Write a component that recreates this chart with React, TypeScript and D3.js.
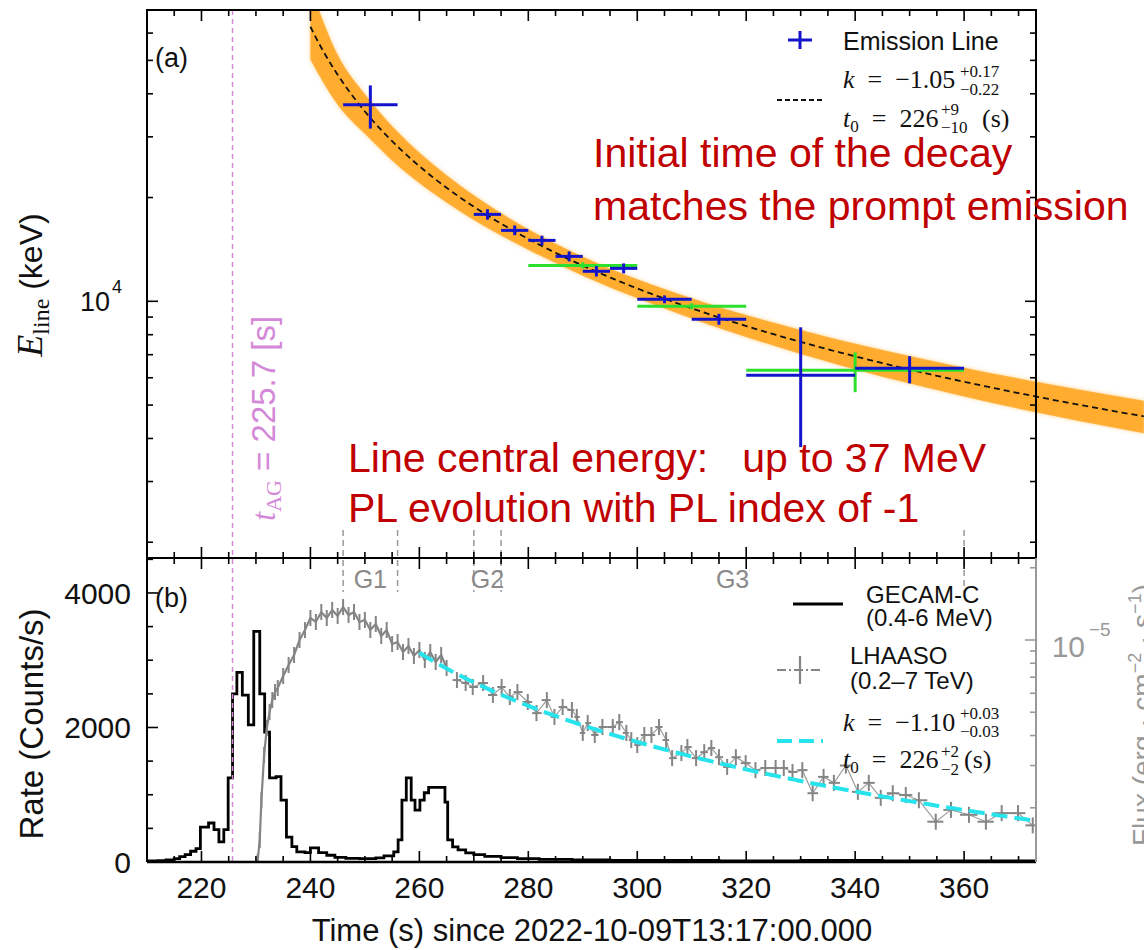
import React from "react";
import * as d3 from "d3";

const W = 1144;
const H = 950;

// ---------- Panel (a): emission line central energy (keV) ----------
const blueT = [251, 272.5, 277.5, 282.5, 287.5, 292.5, 297.5, 305, 315, 330, 350];
const blueTLo = [246, 270, 275, 280, 285, 290, 295, 300, 310, 320, 340];
const blueTHi = [256, 275, 280, 285, 290, 295, 300, 310, 320, 340, 360];
const blueE = [37200, 17870, 16060, 15020, 13500, 12220, 12460, 10130, 8870, 6100, 6390];
const blueELo = [31700, 17250, 15550, 14550, 13050, 11800, 12050, 9870, 8550, 3775, 5780];
const blueEHi = [42300, 18500, 16600, 15500, 13950, 12650, 12880, 10400, 9200, 8405, 6930];

const greenT = [290, 310, 340];
const greenTLo = [280, 300, 320];
const greenTHi = [300, 320, 360];
const greenE = [12710, 9670, 6310];
const greenELo = [12450, 9480, 5450];
const greenEHi = [12980, 9870, 7110];

// power-law fit E = N (t - t0)^k
const fitK = -1.05;
const fitT0 = 226;
const fitNorm = 1.0e6;
const fitStart = 240;
const fitEnd = 393;

// fit uncertainty band (keV) read at knots
const bandT = [240, 245, 250, 256, 263, 271, 280, 290, 310, 330, 360, 393];
const bandUpper = [81700, 51900, 39900, 31050, 24590, 19790, 16180, 13470, 10200, 8260, 6420, 5150];
const bandLower = [50200, 37200, 30600, 24790, 20350, 16840, 14120, 11870, 8920, 7030, 5290, 4140];

// ---------- Panel (b) ----------
// GECAM-C (0.4-6 MeV) light curve: bin left edges (s) and rates (counts/s)
const gecamEdge = [210, 212, 213.5, 215, 216, 217, 218, 219, 219.8, 221.3, 222.3, 223.2, 224.1, 224.9, 225.7, 226.5, 227.5, 228.6, 229.6, 230.7, 231.6, 232.5, 233.7, 234.6, 235.6, 236.6, 237.5, 239, 240, 241.5, 243, 244.5, 246.5, 249, 252, 253.5, 255.3, 256.1, 256.8, 257.6, 258.5, 259.2, 260.1, 260.9, 261.7, 264.7, 265.2, 266.1, 267.1, 268.5, 270, 272, 275, 278, 282, 288, 295, 305, 315, 330, 345, 360];
const gecamRate = [15, 20, 30, 50, 80, 110, 160, 200, 520, 580, 480, 300, 480, 1250, 2500, 2820, 2480, 2040, 3430, 2500, 1930, 1250, 1270, 920, 370, 230, 150, 140, 210, 140, 100, 70, 55, 50, 60, 90, 150, 330, 920, 1250, 920, 770, 920, 1030, 1110, 890, 330, 225, 180, 135, 110, 85, 65, 50, 40, 30, 22, 25, 18, 22, 16, 15];
const gecamEnd = 373.2;

// LHAASO (0.2-7 TeV) flux, units of 1e-6 erg cm^-2 s^-1
const lhDenseT = [230.3, 230.7, 231.0, 231.5, 232.0, 232.5, 233.0, 233.5, 234.0, 235.0, 236.0, 237.0, 238.0, 239.0, 240.0, 241.0, 242.0, 243.0, 244.0, 245.0, 246.0, 247.0, 248.0, 249.0, 250.0, 251.0, 252.0, 253.0, 254.0, 255.0, 256.0, 257.0, 258.0, 259.0, 260.0, 261.0, 262.0, 263.0, 264.0, 265.0];
const lhDenseF = [1.19, 1.47, 2.15, 3.32, 4.30, 5.01, 5.62, 6.07, 6.31, 7.08, 7.87, 8.66, 10.0, 11.0, 12.35, 11.89, 13.08, 12.35, 13.34, 12.59, 13.72, 12.71, 13.08, 11.89, 12.12, 11.01, 11.66, 10.39, 11.01, 9.62, 9.81, 8.91, 9.44, 8.58, 9.08, 8.25, 8.91, 8.10, 8.66, 7.65];
const lhT = [266.9, 268.5, 269.8, 271.7, 273.5, 275.1, 276.6, 278.0, 279.9, 281.5, 283.4, 284.8, 286.3, 288.0, 288.9, 290.0, 290.9, 292.2, 293.6, 295.5, 296.7, 298.0, 298.9, 300.0, 301.3, 302.6, 304.0, 305.3, 306.4, 308.1, 309.2, 310.8, 312.3, 313.6, 315.0, 316.5, 318.1, 319.9, 321.7, 323.5, 325.4, 326.9, 328.5, 330.3, 332.2, 334.2, 336.1, 338.3, 340.5, 342.5, 344.7, 346.9, 349.3, 351.7, 354.8, 357.6, 360.9, 364.0, 366.9, 369.9, 372.6];
const lhF = [6.81, 6.62, 6.37, 6.62, 5.90, 6.37, 5.79, 6.07, 5.52, 4.96, 5.62, 4.78, 5.26, 5.11, 4.78, 4.10, 4.51, 4.02, 4.34, 4.34, 4.55, 4.10, 3.83, 3.65, 4.02, 4.02, 4.34, 3.83, 3.22, 3.38, 3.58, 3.22, 3.41, 3.55, 3.25, 2.96, 3.25, 3.07, 2.87, 2.93, 2.93, 2.93, 2.82, 2.87, 2.30, 2.69, 2.54, 3.0, 2.33, 2.54, 2.20, 2.30, 2.26, 2.15, 1.75, 1.96, 1.87, 1.75, 1.90, 1.90, 1.69];
const lhErrFactor = 1.08;

const lhFitK = -1.1;
const lhFitT0 = 226;
const lhFitNorm = 428;
const lhFitStart = 260;

const tAG = 225.7;
const gLines = [246, 256, 270, 275, 360];
const gLabels = ["G1", "G2", "G3"];
const gCenters = [251, 272.5, 317.5];

const xMajorTicks = [220, 240, 260, 280, 300, 320, 340, 360];
const rateMajorTicks = [0, 2000, 4000];

const SANS = "'Liberation Sans', Arial, Helvetica, sans-serif";
const SERIF = "'Liberation Serif', 'Times New Roman', serif";

export default function App() {
  const x = d3.scaleLinear().domain([210, 373.2]).range([147, 1036]);
  const yE = d3.scaleLog().domain([1800, 70000]).range([558, 10]);
  const yR = d3.scaleLinear().domain([0, 4520]).range([862, 558]);
  const yF = d3.scaleLog().domain([1.189, 21.96]).range([862, 558]);

  const L = 147, R = 1036, T = 10, M = 558, B = 862;

  const fitTs = d3.range(fitStart, fitEnd + 0.01, 0.5);
  const fitLine = d3
    .line<number>()
    .x((t) => x(t))
    .y((t) => yE(fitNorm * Math.pow(t - fitT0, fitK)))(fitTs) as string;

  const bandIdx = d3.range(bandT.length);
  const bandArea = d3
    .area<number>()
    .x((i) => x(bandT[i]))
    .y0((i) => yE(bandLower[i]))
    .y1((i) => yE(bandUpper[i]))
    .curve(d3.curveMonotoneX)(bandIdx) as string;

  const histPts: [number, number][] = gecamEdge.map((t, i) => [t, gecamRate[i]]);
  histPts.push([gecamEnd, gecamRate[gecamRate.length - 1]]);
  const histPath = d3
    .line<[number, number]>()
    .x((d) => x(d[0]))
    .y((d) => yR(d[1]))
    .curve(d3.curveStepAfter)(histPts) as string;

  const densePath = d3
    .line<number>()
    .x((i) => x(lhDenseT[i]))
    .y((i) => yF(lhDenseF[i]))(d3.range(lhDenseT.length)) as string;
  const crossPath = d3
    .line<number>()
    .x((i) => x(lhT[i]))
    .y((i) => yF(lhF[i]))(d3.range(lhT.length)) as string;

  const cyanTs = d3.range(lhFitStart, 373.2 + 0.01, 0.5);
  const cyanPath = d3
    .line<number>()
    .x((t) => x(t))
    .y((t) => yF(lhFitNorm * Math.pow(t - lhFitT0, lhFitK)))(cyanTs) as string;

  const minorX = d3.range(210, 373.2, 5);
  const eTicks = yE.ticks();
  const fTicks = yF.ticks();
  const rateMinor = d3.range(0, 4501, 500);

  const blue = "#1414CC";
  const green = "#2EE02E";
  const gray = "#858585";
  const pink = "#D488D8";
  const red = "#C00000";

  return (
    <svg
      width={W}
      height={H}
      viewBox={`0 0 ${W} ${H}`}
      style={{ position: "absolute", left: 0, top: 0, background: "#fff" }}
      fontFamily={SANS}
    >
      <defs>
        <clipPath id="clipA">
          <rect x={L} y={T} width={W - L} height={M - T} />
        </clipPath>
        <clipPath id="clipB">
          <rect x={L} y={M} width={R - L} height={B - M} />
        </clipPath>
        <filter id="soft" x="-5%" y="-5%" width="110%" height="110%">
          <feGaussianBlur stdDeviation="2" />
        </filter>
      </defs>
      <rect x={0} y={0} width={W} height={H} fill="#fff" />

      {/* ---------- Panel (a) ---------- */}
      <g clipPath="url(#clipA)">
        <path d={bandArea} fill="#FFB030" opacity={0.55} filter="url(#soft)" />
        <path d={bandArea} fill="#FFA51F" opacity={0.85} />
        <path d={fitLine} fill="none" stroke="#111" strokeWidth={1.8} strokeDasharray="6,4" />
        {greenT.map((t, i) => (
          <g key={"g" + i} stroke={green} strokeWidth={3}>
            <line x1={x(greenTLo[i])} x2={x(greenTHi[i])} y1={yE(greenE[i])} y2={yE(greenE[i])} />
            <line x1={x(t)} x2={x(t)} y1={yE(greenELo[i])} y2={yE(greenEHi[i])} />
          </g>
        ))}
        {blueT.map((t, i) => (
          <g key={"b" + i} stroke={blue} strokeWidth={3}>
            <line x1={x(blueTLo[i])} x2={x(blueTHi[i])} y1={yE(blueE[i])} y2={yE(blueE[i])} />
            <line x1={x(t)} x2={x(t)} y1={yE(blueELo[i])} y2={yE(blueEHi[i])} />
          </g>
        ))}
      </g>

      {/* ---------- Panel (b) ---------- */}
      <g clipPath="url(#clipB)">
        <path d={histPath} fill="none" stroke="#000" strokeWidth={2.8} />
        <path d={densePath} fill="none" stroke={gray} strokeWidth={2.2} />
        {lhDenseT.map((t, i) => (
          <line
            key={"d" + i}
            x1={x(t)}
            x2={x(t)}
            y1={yF(lhDenseF[i] / lhErrFactor)}
            y2={yF(lhDenseF[i] * lhErrFactor)}
            stroke={gray}
            strokeWidth={2}
          />
        ))}
        <path d={crossPath} fill="none" stroke={gray} strokeWidth={1.2} opacity={0.8} />
        {lhT.map((t, i) => {
          const prev = i > 0 ? lhT[i - 1] : t - (lhT[1] - lhT[0]);
          const next = i < lhT.length - 1 ? lhT[i + 1] : t + (t - lhT[i - 1]);
          return (
            <g key={"c" + i} stroke={gray} strokeWidth={2}>
              <line x1={x((prev + t) / 2)} x2={x((next + t) / 2)} y1={yF(lhF[i])} y2={yF(lhF[i])} />
              <line x1={x(t)} x2={x(t)} y1={yF(lhF[i] / lhErrFactor)} y2={yF(lhF[i] * lhErrFactor)} />
            </g>
          );
        })}
        <path d={cyanPath} fill="none" stroke="#27E3EC" strokeWidth={4} strokeDasharray="16,7" />
      </g>

      {/* t_AG line */}
      <line x1={x(tAG)} x2={x(tAG)} y1={T} y2={B} stroke={pink} strokeWidth={1.5} strokeDasharray="5,4" />
      <text
        transform={`translate(${x(tAG) + 42},521) rotate(-90)`}
        fontSize={33}
        fill={pink}
      >
        <tspan fontFamily={SERIF} fontStyle="italic">t</tspan>
        <tspan fontFamily={SERIF} fontSize={22} dy={6}>AG</tspan>
        <tspan dy={-6}> = 225.7 [s]</tspan>
      </text>

      {/* G intervals */}
      {gLines.map((t, i) => (
        <line key={"gl" + i} x1={x(t)} x2={x(t)} y1={530} y2={592} stroke="#9a9a9a" strokeWidth={1.5} strokeDasharray="6,4" />
      ))}
      {gLabels.map((g, i) => (
        <text key={"gt" + i} x={x(gCenters[i])} y={588} fontSize={25} fill="#8a8a8a" textAnchor="middle">
          {g}
        </text>
      ))}

      {/* ---------- Axes & spines ---------- */}
      <g stroke="#000" strokeWidth={1.6}>
        {minorX.map((t) => {
          const len = xMajorTicks.includes(t) ? 11 : 6;
          return (
            <g key={"xt" + t}>
              <line x1={x(t)} x2={x(t)} y1={T} y2={T + len} />
              <line x1={x(t)} x2={x(t)} y1={M} y2={M - len} />
              <line x1={x(t)} x2={x(t)} y1={M} y2={M + len} />
              <line x1={x(t)} x2={x(t)} y1={B} y2={B - len} />
            </g>
          );
        })}
        {eTicks.map((v) => {
          const len = v === 10000 ? 11 : 6;
          return (
            <g key={"et" + v}>
              <line x1={L} x2={L + len} y1={yE(v)} y2={yE(v)} />
              <line x1={R} x2={R - len} y1={yE(v)} y2={yE(v)} />
            </g>
          );
        })}
        {rateMinor.map((v) => {
          const len = rateMajorTicks.includes(v) ? 11 : 6;
          return <line key={"rt" + v} x1={L} x2={L + len} y1={yR(v)} y2={yR(v)} />;
        })}
      </g>
      <g stroke="#999" strokeWidth={1.6}>
        {fTicks.map((v) => {
          const len = v === 10 ? 11 : 6;
          return <line key={"ft" + v} x1={R} x2={R - len} y1={yF(v)} y2={yF(v)} />;
        })}
      </g>
      <rect x={L} y={T} width={R - L} height={M - T} fill="none" stroke="#000" strokeWidth={2} />
      <line x1={L} x2={L} y1={M} y2={B} stroke="#000" strokeWidth={2} />
      <line x1={L} x2={R} y1={B} y2={B} stroke="#000" strokeWidth={2.4} />
      <line x1={R} x2={R} y1={M} y2={B} stroke="#999" strokeWidth={2} />

      {/* tick labels */}
      {xMajorTicks.map((t) => (
        <text key={"xl" + t} x={x(t)} y={898} fontSize={30} textAnchor="middle" fill="#111">
          {t}
        </text>
      ))}
      {rateMajorTicks.map((v) => (
        <text key={"rl" + v} x={131} y={yR(v) + 11} fontSize={30} textAnchor="end" fill="#111">
          {v}
        </text>
      ))}
      <text x={110} y={yE(10000) + 10} fontSize={27} textAnchor="end" fill="#111">10</text>
      <text x={112} y={yE(10000) - 8} fontSize={18} fill="#111">4</text>
      <text x={1085} y={yF(10) + 17} fontSize={30} textAnchor="end" fill="#999">10</text>
      <text x={1089} y={yF(10) - 4} fontSize={19} fill="#999">−5</text>

      {/* axis titles */}
      <text x={592} y={941} fontSize={31} textAnchor="middle" fill="#111">
        Time (s) since 2022-10-09T13:17:00.000
      </text>
      <text transform="translate(43,724) rotate(-90)" fontSize={33} textAnchor="middle" fill="#111">
        Rate (Counts/s)
      </text>
      <text transform="translate(42,285) rotate(-90)" fontSize={32} textAnchor="middle" fill="#111">
        <tspan fontFamily={SERIF} fontStyle="italic" fontSize={36}>E</tspan>
        <tspan fontFamily={SERIF} fontSize={24} dy={7}>line</tspan>
        <tspan dy={-7}> (keV)</tspan>
      </text>
      <text transform="translate(1152,715) rotate(-90)" fontSize={28} textAnchor="middle" fill="#999">
        Flux (erg · cm
        <tspan fontSize={18} dy={-11}>−2</tspan>
        <tspan dy={11}> · s</tspan>
        <tspan fontSize={18} dy={-11}>−1</tspan>
        <tspan dy={11}>)</tspan>
      </text>

      {/* panel labels */}
      <text x={155} y={67} fontSize={27} fill="#111">(a)</text>
      <text x={155} y={607} fontSize={27} fill="#111">(b)</text>

      {/* ---------- Legend (a) ---------- */}
      <g stroke={blue} strokeWidth={3}>
        <line x1={788} x2={812} y1={40} y2={40} />
        <line x1={800} x2={800} y1={31} y2={49} />
      </g>
      <text x={843} y={50} fontSize={25} fill="#111">Emission Line</text>
      <line x1={777} x2={823} y1={100} y2={100} stroke="#111" strokeWidth={2} strokeDasharray="5,3" />
      <text x={843} y={88} fontSize={26} fontFamily={SERIF} fill="#111">
        <tspan fontStyle="italic">k</tspan>
        <tspan>{"\u2002=\u2002−1.05"}</tspan>
      </text>
      <text x={960} y={77} fontSize={17} fontFamily={SERIF} fill="#111">+0.17</text>
      <text x={960} y={95} fontSize={17} fontFamily={SERIF} fill="#111">−0.22</text>
      <text x={843} y={127} fontSize={26} fontFamily={SERIF} fill="#111">
        <tspan fontStyle="italic">t</tspan>
        <tspan fontSize={17} dy={5}>0</tspan>
        <tspan dy={-5}>{"\u2002=\u2002226"}</tspan>
      </text>
      <text x={941} y={115} fontSize={17} fontFamily={SERIF} fill="#111">+9</text>
      <text x={941} y={133} fontSize={17} fontFamily={SERIF} fill="#111">−10</text>
      <text x={982} y={127} fontSize={26} fontFamily={SERIF} fill="#111">(s)</text>

      {/* ---------- Legend (b) ---------- */}
      <line x1={793} x2={843} y1={604} y2={604} stroke="#000" strokeWidth={3.2} />
      <text x={866} y={603} fontSize={24} fill="#111">GECAM-C</text>
      <text x={866} y={626} fontSize={24} fill="#111">(0.4-6 MeV)</text>
      <line x1={777} x2={823} y1={670} y2={670} stroke={gray} strokeWidth={2} strokeDasharray="9,3,2,3" />
      <line x1={800} x2={800} y1={656} y2={684} stroke={gray} strokeWidth={2.2} />
      <text x={850} y={664} fontSize={24} fill="#111">LHAASO</text>
      <text x={850} y={689} fontSize={24} fill="#111">(0.2–7 TeV)</text>
      <line x1={777} x2={823} y1={741} y2={741} stroke="#27E3EC" strokeWidth={4} strokeDasharray="15,7" />
      <text x={843} y={731} fontSize={26} fontFamily={SERIF} fill="#111">
        <tspan fontStyle="italic">k</tspan>
        <tspan>{"\u2002=\u2002−1.10"}</tspan>
      </text>
      <text x={960} y={719} fontSize={17} fontFamily={SERIF} fill="#111">+0.03</text>
      <text x={960} y={737} fontSize={17} fontFamily={SERIF} fill="#111">−0.03</text>
      <text x={843} y={768} fontSize={26} fontFamily={SERIF} fill="#111">
        <tspan fontStyle="italic">t</tspan>
        <tspan fontSize={17} dy={5}>0</tspan>
        <tspan dy={-5}>{"\u2002=\u2002226"}</tspan>
      </text>
      <text x={941} y={757} fontSize={17} fontFamily={SERIF} fill="#111">+2</text>
      <text x={941} y={775} fontSize={17} fontFamily={SERIF} fill="#111">−2</text>
      <text x={964} y={768} fontSize={26} fontFamily={SERIF} fill="#111">(s)</text>

      {/* ---------- Annotations ---------- */}
      <text x={593} y={167} fontSize={41} fill={red}>Initial time of the decay</text>
      <text x={593} y={220} fontSize={41} fill={red}>matches the prompt emission</text>
      <text x={348} y={472} fontSize={41} fill={red} xmlSpace="preserve">
        {"Line central energy:   up to 37 MeV"}
      </text>
      <text x={348} y={522} fontSize={41} fill={red}>PL evolution with PL index of -1</text>
    </svg>
  );
}
